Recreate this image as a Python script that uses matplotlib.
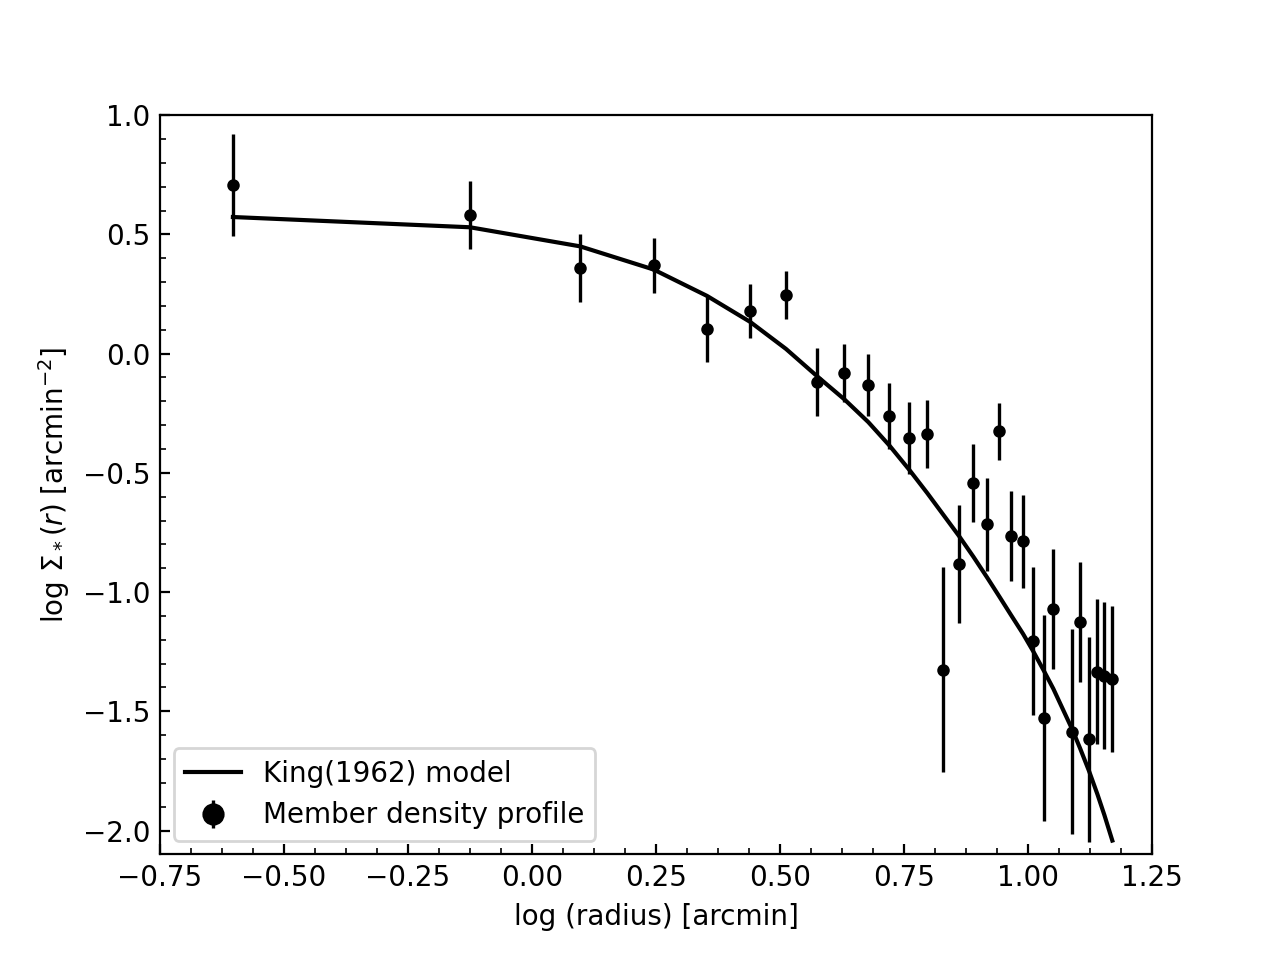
import matplotlib
matplotlib.use("Agg")
import matplotlib.pyplot as plt
from matplotlib.ticker import AutoMinorLocator

# Member density profile
log_r = [-0.603, -0.125, 0.097, 0.245, 0.353, 0.440, 0.512, 0.575, 0.630, 0.678,
         0.7205, 0.761, 0.797, 0.829, 0.861, 0.890, 0.918, 0.942, 0.966, 0.990,
         1.011, 1.032, 1.051, 1.089, 1.105, 1.123, 1.140, 1.154, 1.170]
log_sigma = [0.707, 0.580, 0.358, 0.370, 0.103, 0.179, 0.246, -0.119, -0.082, -0.132,
             -0.262, -0.354, -0.336, -1.326, -0.881, -0.542, -0.715, -0.325, -0.765, -0.786,
             -1.204, -1.528, -1.071, -1.585, -1.125, -1.618, -1.334, -1.350, -1.364]
log_sigma_err = [0.215, 0.143, 0.143, 0.117, 0.140, 0.115, 0.100, 0.143, 0.122, 0.130,
                 0.137, 0.150, 0.143, 0.430, 0.247, 0.163, 0.195, 0.120, 0.190, 0.195,
                 0.310, 0.430, 0.250, 0.430, 0.250, 0.430, 0.305, 0.307, 0.305]

# King (1962) model evaluated at the same radii
king_model = [0.573, 0.530, 0.450, 0.353, 0.242, 0.133, 0.020, -0.095, -0.192, -0.287,
              -0.385, -0.488, -0.585, -0.675, -0.765, -0.852, -0.940, -1.018, -1.097, -1.175,
              -1.250, -1.330, -1.405, -1.575, -1.655, -1.750, -1.848, -1.935, -2.042]

fig, ax = plt.subplots(figsize=(6.4, 4.8), dpi=200)

ax.plot(log_r, king_model, color='black', lw=1.5, label='King(1962) model')
ax.errorbar(log_r, log_sigma, yerr=log_sigma_err, fmt='o', color='black',
            ms=3.5, elinewidth=1.2, capsize=0, label='Member density profile')

ax.set_xlim(-0.75, 1.25)
ax.set_ylim(-2.1, 1.0)
ax.xaxis.set_minor_locator(AutoMinorLocator(4))
ax.yaxis.set_minor_locator(AutoMinorLocator(5))
ax.tick_params(which='both', direction='in')
ax.set_xlabel('log (radius) [arcmin]')
ax.set_ylabel(r'log $\Sigma_*(r)$ [arcmin$^{-2}$]')
ax.legend(loc='lower left', markerscale=2)

fig.savefig('out.png', dpi=200)
